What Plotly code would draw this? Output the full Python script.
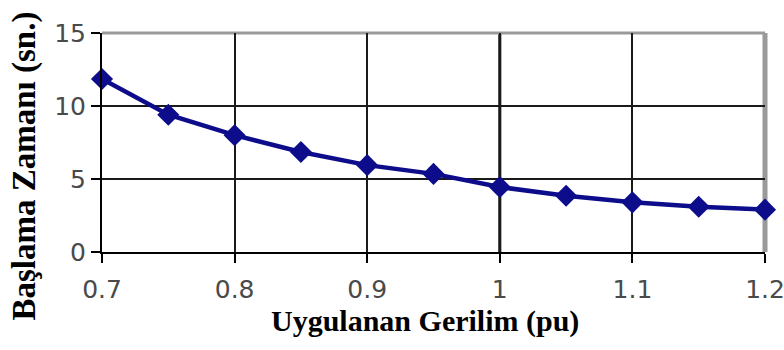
import plotly.graph_objects as go

# Applied voltage (pu) and corresponding start time (s)
voltage_pu = [0.70, 0.75, 0.80, 0.85, 0.90, 0.95, 1.00, 1.05, 1.10, 1.15, 1.20]
start_time_s = [11.85, 9.4, 8.0, 6.85, 5.95, 5.35, 4.45, 3.85, 3.4, 3.1, 2.9]

x_ticks = [0.7, 0.8, 0.9, 1.0, 1.1, 1.2]
x_tick_text = ["0.7", "0.8", "0.9", "1", "1.1", "1.2"]
y_ticks = [0, 5, 10, 15]

x_title = "<b>Uygulanan Gerilim (pu)</b>"
y_title = "<b>Başlama Zamanı (sn.)</b>"

nominal_pu = 1.0

LINE_COLOR = "#0d0d8c"
TICK_FONT = dict(family="DejaVu Sans", size=25, color="#4a4a4a")
SERIF = "Liberation Serif"

fig = go.Figure()
fig.add_trace(go.Scatter(
    x=voltage_pu,
    y=start_time_s,
    mode="lines+markers",
    line=dict(color=LINE_COLOR, width=4.5),
    marker=dict(symbol="diamond", size=17, color=LINE_COLOR),
    cliponaxis=False,
    showlegend=False,
))

# emphasised gridline at rated voltage
fig.add_vline(x=nominal_pu, line=dict(color="#000000", width=3), layer="below")

# frame: grey top and right edges
fig.add_shape(type="line", xref="paper", yref="paper", x0=0, x1=1, y0=1, y1=1,
              line=dict(color="#9a9a9a", width=3), layer="below")
fig.add_shape(type="line", xref="paper", yref="paper", x0=1, x1=1, y0=0, y1=1,
              line=dict(color="#9a9a9a", width=5), layer="below")

# axis titles placed as annotations for tight spacing
fig.add_annotation(text=x_title, xref="paper", yref="paper", x=0.487, y=0,
                   xanchor="center", yanchor="middle", yshift=-69, showarrow=False,
                   font=dict(family=SERIF, size=30, color="#000000"))
fig.add_annotation(text=y_title, xref="paper", yref="paper", x=0, y=0.39,
                   xanchor="center", yanchor="middle", xshift=-77, textangle=-90,
                   showarrow=False,
                   font=dict(family=SERIF, size=33, color="#000000"))

axis_common = dict(
    tickfont=TICK_FONT,
    ticks="outside",
    ticklen=9,
    tickwidth=2,
    tickcolor="#000000",
    showgrid=True,
    gridcolor="#1a1a1a",
    gridwidth=2,
    showline=True,
    linecolor="#000000",
    linewidth=2,
    zeroline=False,
    automargin=False,
)

fig.update_layout(
    width=784,
    height=350,
    margin=dict(l=102, r=19, t=33, b=98),
    paper_bgcolor="white",
    plot_bgcolor="white",
    xaxis=dict(
        range=[0.7, 1.2],
        tickvals=x_ticks,
        ticktext=x_tick_text,
        ticklabeloverflow="allow",
        ticklabelstandoff=5,
        **axis_common,
    ),
    yaxis=dict(
        range=[0, 15],
        tickvals=y_ticks,
        **axis_common,
    ),
)

fig.write_html("out.html")
